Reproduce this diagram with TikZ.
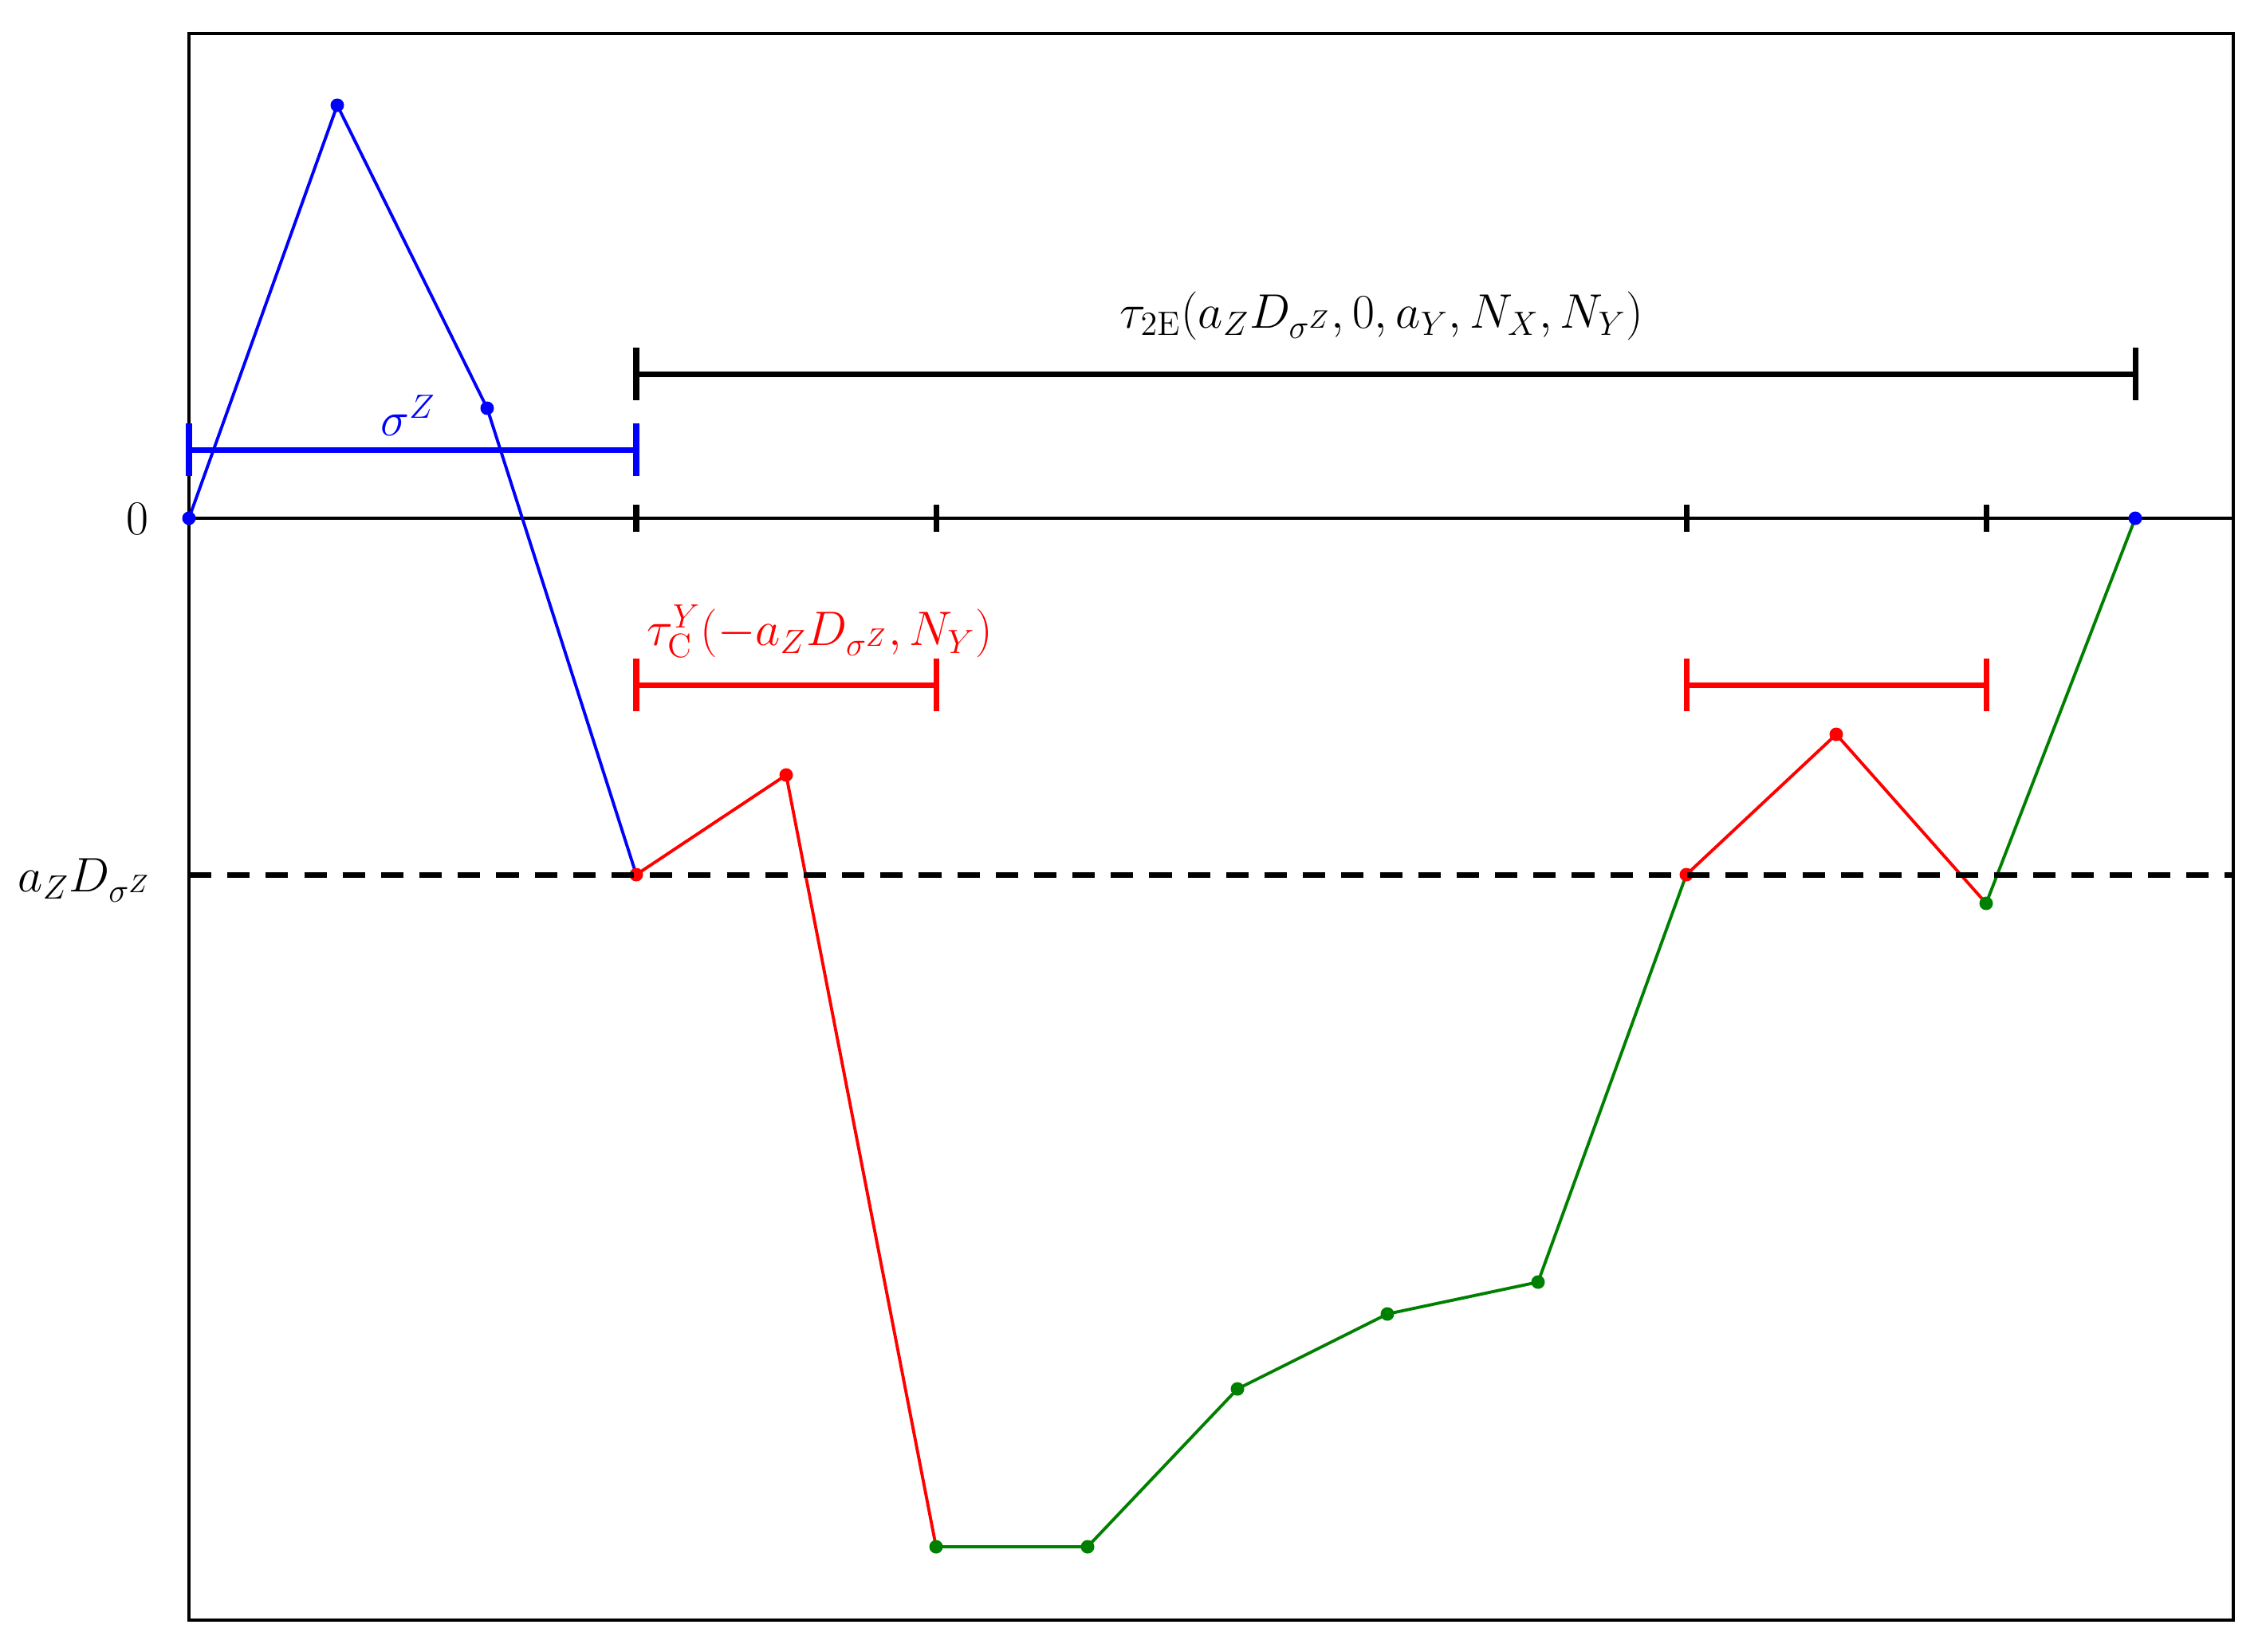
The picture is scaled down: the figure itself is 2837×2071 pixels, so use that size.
\documentclass[tikz,border=0pt]{standalone}
\begin{document}
\begin{tikzpicture}[x=0.01cm,y=-0.01cm,
  frame/.style={line width=1.1pt,black},
  axis/.style={line width=1.1pt,black},
  ticks/.style={line width=2pt,black},
  bar/.style={line width=2pt},
  grline/.style={line width=1.1pt},
  dotc/.style={circle,inner sep=0pt,minimum size=0.17cm},
  lab/.style={font=\fontsize{17.5}{20}\selectfont,inner sep=0pt}]
\useasboundingbox (0,0) rectangle (2837,2071);
\definecolor{gcol}{RGB}{0,128,0}
% frame
\draw[frame] (237,42) rectangle (2801,2032);
% points
\coordinate (p0) at (237,650);
\coordinate (p1) at (423,132);
\coordinate (p2) at (611,512);
\coordinate (p3) at (798,1097);
\coordinate (p4) at (986,972);
\coordinate (p5) at (1174,1940);
\coordinate (p6) at (1364,1940);
\coordinate (p7) at (1552,1742);
\coordinate (p8) at (1740,1648);
\coordinate (p9) at (1929,1608);
\coordinate (p10) at (2115,1097);
\coordinate (p11) at (2303,921);
\coordinate (p12) at (2491,1133);
\coordinate (p13) at (2678,650);
% zero axis
\coordinate (zL) at (237,650);
\coordinate (zR) at (2801,650);
\draw[axis] (zL) -- (zR);
\foreach \x in {798,1174,2115,2491}{\draw[ticks] (\x,633) -- (\x,667);}
% graph
\draw[grline,blue] (p0) -- (p1) -- (p2) -- (p3);
\draw[grline,red] (p3) -- (p4) -- (p5);
\draw[grline,gcol] (p5) -- (p6) -- (p7) -- (p8) -- (p9) -- (p10);
\draw[grline,red] (p10) -- (p11) -- (p12);
\draw[grline,gcol] (p12) -- (p13);
\foreach \p in {p0,p1,p2,p13}{\node[dotc,fill=blue] at (\p) {};}
\foreach \p in {p3,p4,p10,p11}{\node[dotc,fill=red] at (\p) {};}
\foreach \p in {p5,p6,p7,p8,p9,p12}{\node[dotc,fill=gcol] at (\p) {};}
% dashed level
\coordinate (dL) at (237,1097);
\coordinate (dR) at (2801,1097);
\draw[line width=2pt,dash pattern=on 8pt off 5.7pt] (dL) -- (dR);
% intervals
\coordinate (bzL) at (237,564);
\coordinate (bzR) at (798,564);
\draw[bar,blue] (bzL) -- (bzR);
\draw[bar,blue] (bzL) ++(0,-33) -- ++(0,66);
\draw[bar,blue] (bzR) ++(0,-33) -- ++(0,66);
\coordinate (kL) at (798,469);
\coordinate (kR) at (2678,469);
\draw[bar,black] (kL) -- (kR);
\draw[bar,black] (kL) ++(0,-33) -- ++(0,66);
\draw[bar,black] (kR) ++(0,-33) -- ++(0,66);
\coordinate (r1L) at (798,859);
\coordinate (r1R) at (1174,859);
\draw[bar,red] (r1L) -- (r1R);
\draw[bar,red] (r1L) ++(0,-33) -- ++(0,66);
\draw[bar,red] (r1R) ++(0,-33) -- ++(0,66);
\coordinate (r2L) at (2115,859);
\coordinate (r2R) at (2491,859);
\draw[bar,red] (r2L) -- (r2R);
\draw[bar,red] (r2L) ++(0,-33) -- ++(0,66);
\draw[bar,red] (r2R) ++(0,-33) -- ++(0,66);
% labels
\node[lab] (l0) at (172,651) {$0$};
\node[lab,anchor=east] (lad) at (190,1104) {$a_Z D_{\sigma^Z}$};
\node[lab,blue] (lsig) at (512,521) {$\sigma^Z$};
\node[lab] (ltau) at (1733,396) {$\tau_{2\mathrm{E}}\bigl(a_Z D_{\sigma^Z}, 0, a_Y, N_X, N_Y\bigr)$};
\node[lab,red] (ltc) at (1028,792) {$\tau^Y_{\mathrm{C}}\bigl(-a_Z D_{\sigma^Z}, N_Y\bigr)$};
\end{tikzpicture}
\end{document}
